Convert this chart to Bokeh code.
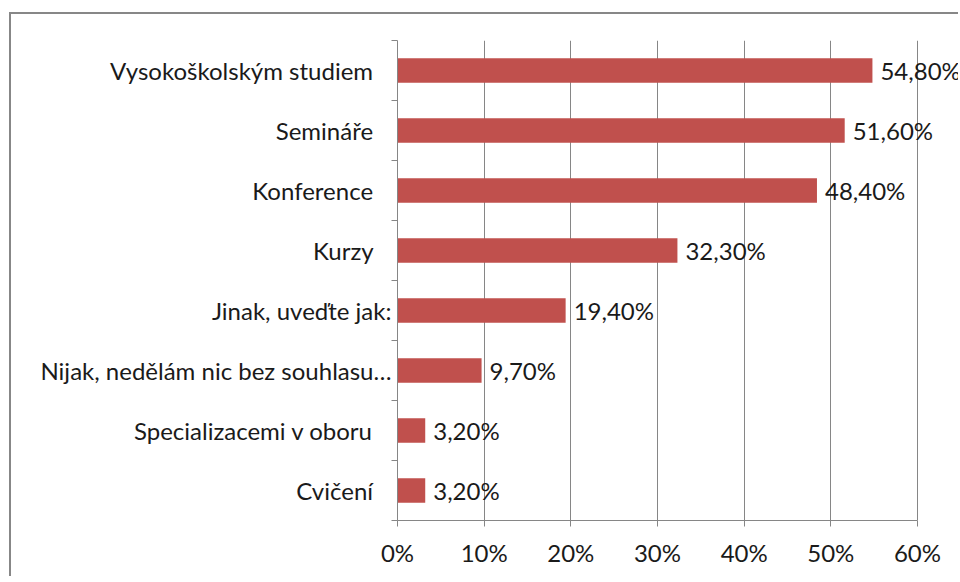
from bokeh.plotting import figure
from bokeh.models import FixedTicker, Range1d, NumeralTickFormatter
from bokeh.core.properties import value
from bokeh.embed import file_html
from bokeh.resources import INLINE

# data, bottom to top
categories = ["Cvičení", "Specializacemi v oboru", "Nijak, nedělám nic bez souhlasu…",
              "Jinak, uveďte jak:", "Kurzy", "Konference", "Semináře", "Vysokoškolským studiem"]
values = [0.032, 0.032, 0.097, 0.194, 0.323, 0.484, 0.516, 0.548]
pad = [True, True, False, False, True, True, True, True]  # label drawn with trailing space
x_ticks = [0, 0.1, 0.2, 0.3, 0.4, 0.5, 0.6]

FONT = "Lato"
FS = "24px"
GRAY = "#868686"

n = len(categories)
centers = [i + 0.5 for i in range(n)]
bounds_y = [i for i in range(n + 1)]
texts = [f"{v*100:.2f}".replace(".", ",") + "%" for v in values]

p = figure(width=949, height=564, x_range=Range1d(0, 0.6 * 563 / 520), y_range=Range1d(0, n),
           output_backend="svg", toolbar_location=None,
           min_border_left=386, min_border_right=0, min_border_top=26, min_border_bottom=58)
p.styles = {"margin-left": "9px", "margin-top": "12px",
            "border-left": "2px solid #878787", "border-top": "2px solid #878787"}
p.outline_line_color = None
p.background_fill_color = "white"
p.border_fill_color = "white"

p.hbar(y=centers, left=0, right=values, height=0.41, fill_color="#C0504D", line_color=None)
p.text(x=values, y=centers, text=texts, x_offset=8, text_align="left", text_baseline="middle",
       text_font=value(FONT), text_font_size=FS, text_color="#1a1a1a")

# x axis
p.xaxis.ticker = FixedTicker(ticks=x_ticks)
p.xaxis.bounds = (0, 0.6)
p.xaxis.formatter = NumeralTickFormatter(format="0%")
p.xaxis.axis_line_color = GRAY
p.xaxis.major_tick_line_color = GRAY
p.xaxis.major_tick_out = 6
p.xaxis.major_tick_in = 0
p.xaxis.minor_tick_line_color = None
p.xaxis.major_label_standoff = 11
p.xaxis.major_label_text_font = FONT
p.xaxis.major_label_text_font_size = FS
p.xaxis.major_label_text_color = "#1a1a1a"

# y axis: labels at centers, ticks at boundaries
p.yaxis.ticker = FixedTicker(ticks=centers, minor_ticks=bounds_y)
p.yaxis.bounds = (0, n)
p.yaxis.major_label_overrides = {c: (lab + "\u00a0" * 3 if pd else lab)
                                 for c, lab, pd in zip(centers, categories, pad)}
p.yaxis.axis_line_color = GRAY
p.yaxis.major_tick_line_color = None
p.yaxis.major_tick_out = 0
p.yaxis.major_tick_in = 0
p.yaxis.minor_tick_line_color = GRAY
p.yaxis.minor_tick_out = 6
p.yaxis.minor_tick_in = 0
p.yaxis.major_label_standoff = 0
p.yaxis.major_label_text_font = FONT
p.yaxis.major_label_text_font_size = FS
p.yaxis.major_label_text_color = "#1a1a1a"

p.xgrid.ticker = FixedTicker(ticks=x_ticks)
p.xgrid.grid_line_color = GRAY
p.ygrid.grid_line_color = None

open("out.html", "w").write(file_html(p, INLINE))
